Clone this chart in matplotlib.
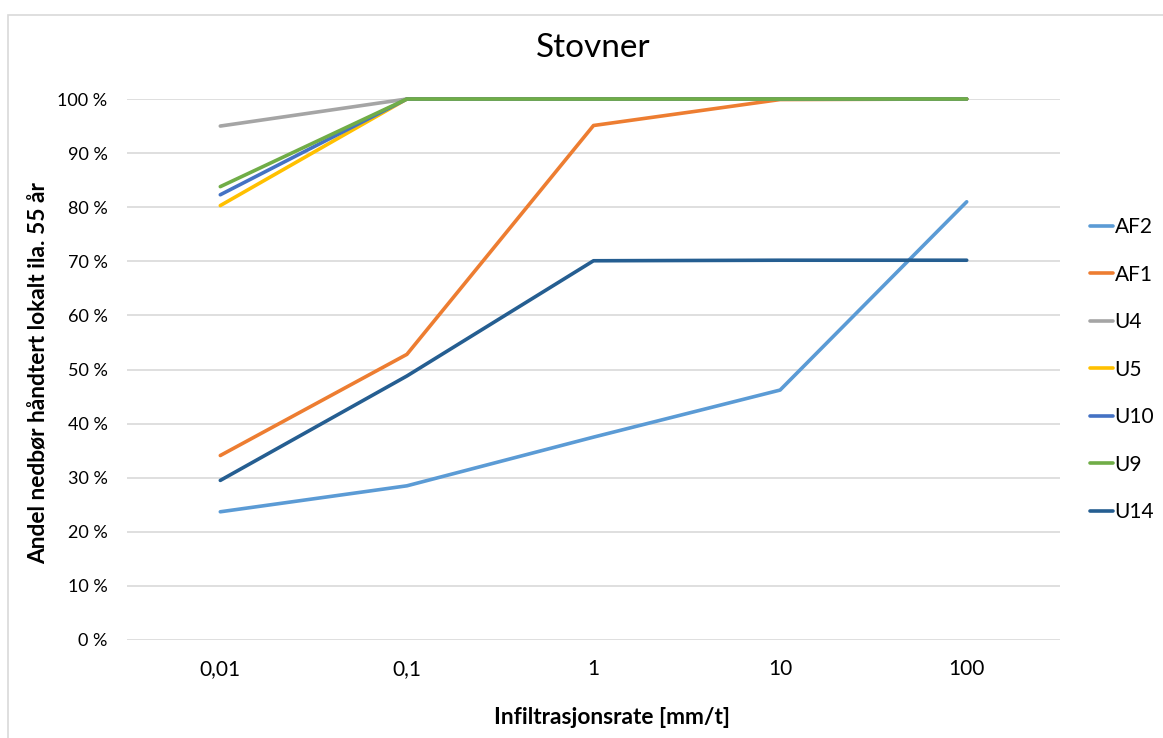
import matplotlib.pyplot as plt
from matplotlib.patches import Rectangle
from matplotlib.ticker import FuncFormatter

plt.rcParams['font.family'] = ['Lato', 'DejaVu Sans']

# Infiltrasjonsrate (kategorier)
rates = ['0,01', '0,1', '1', '10', '100']

# Andel håndtert lokalt (%)
af2 = [23.7, 28.5, 37.5, 46.2, 81.0]
af1 = [34.1, 52.8, 95.1, 99.9, 100.0]
u4 = [95.0, 100.0, 100.0, 100.0, 100.0]
u5 = [80.3, 100.0, 100.0, 100.0, 100.0]
u10 = [82.3, 100.0, 100.0, 100.0, 100.0]
u9 = [83.8, 100.0, 100.0, 100.0, 100.0]
u14 = [29.5, 48.8, 70.1, 70.2, 70.2]

series = [('AF2', af2, '#5B9BD5'), ('AF1', af1, '#ED7D31'), ('U4', u4, '#A5A5A5'),
          ('U5', u5, '#FFC000'), ('U10', u10, '#4472C4'), ('U9', u9, '#70AD47'),
          ('U14', u14, '#255E91')]

fig = plt.figure(figsize=(11.63, 7.38), dpi=100)
ax = fig.add_axes([127 / 1163, 1 - 640 / 738, (1060 - 127) / 1163, (640 - 99) / 738])

# ramme rundt diagrammet
fig.patches.append(Rectangle((8 / 1163, -0.1), 1.2, 1 - 15 / 738 + 0.1, transform=fig.transFigure,
                             fill=False, edgecolor='#D9D9D9', linewidth=1.2))

x = list(range(len(rates)))
for name, vals, col in series:
    ax.plot(x, vals, color=col, linewidth=2.6, label=name, clip_on=False,
            solid_capstyle='round')

ax.set_xlim(-0.5, len(rates) - 0.5)
ax.set_ylim(0, 100)
ax.set_yticks(range(0, 101, 10))
ax.yaxis.set_major_formatter(FuncFormatter(lambda v, p: f'{v:.0f} %'))
ax.set_xticks(x)
ax.set_xticklabels(rates)
ax.grid(axis='y', color='#D9D9D9', linewidth=1.2)
ax.set_axisbelow(True)
for s in ax.spines.values():
    s.set_visible(False)
ax.tick_params(length=0, labelsize=13, colors='black')
ax.tick_params(axis='x', pad=14, labelsize=15)
ax.tick_params(axis='y', pad=14)

ax.set_title('Stovner', fontsize=24, pad=30)
ax.set_xlabel('Infiltrasjonsrate [mm/t]', fontsize=16.4, fontweight='bold')
ax.xaxis.set_label_coords(612 / 1163, 1 - 717 / 738, transform=fig.transFigure)
ax.xaxis.label.set_va('center')
ax.set_ylabel('Andel nedbør håndtert lokalt ila. 55 år', fontsize=16.4, fontweight='bold')
ax.yaxis.set_label_coords(39 / 1163, 1 - 373 / 738, transform=fig.transFigure)
ax.yaxis.label.set_va('center')

ax.legend(loc='center left', bbox_to_anchor=(0.0236 + 1, 0.5), frameon=False, fontsize=15,
          handlelength=1.07, handletextpad=0.1, labelspacing=1.32, borderaxespad=0)

fig.savefig('out.png', dpi=100)
